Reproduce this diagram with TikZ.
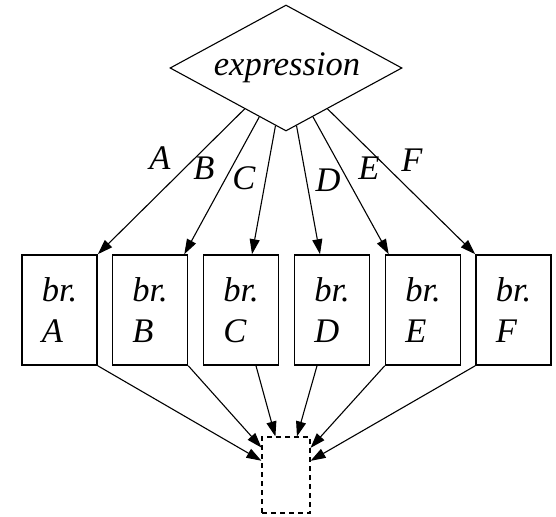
\documentclass[tikz,border=0pt]{standalone}
\usepackage{fontspec}
\setmainfont{Liberation Serif}[ItalicFont={Liberation Serif Italic}]
\usetikzlibrary{shapes.geometric,arrows.meta}
\begin{document}
\begin{tikzpicture}[x=1pt,y=-1pt,
  every node/.style={font=\fontsize{34.5}{41}\selectfont\itshape},
  brbox/.style={draw, line width=1.6pt, minimum width=75pt, minimum height=110pt, inner sep=0pt, align=left},
  edge/.style={line width=1.1pt, -{Triangle[length=15pt,width=10pt]}},
  lab/.style={inner sep=0pt}]
\useasboundingbox (0,0) rectangle (556,516);
\node[diamond, draw, line width=1.1pt, minimum width=232pt, minimum height=126pt, inner sep=0pt] (d) at (286,68) {};
\node[inner sep=0pt] (dt) at (287,68) {expression};
\node[brbox] (a) at (59.5,310) {br.\\A};
\node[brbox] (b) at (150,310) {br.\\B};
\node[brbox] (c) at (241,310) {br.\\C};
\node[brbox] (e1) at (332,310) {br.\\D};
\node[brbox] (e2) at (423,310) {br.\\E};
\node[brbox] (f) at (513.5,310) {br.\\F};
\node[draw, dashed, dash pattern=on 5pt off 4pt, line width=1.1pt, minimum width=48pt, minimum height=76pt, inner sep=0pt] (m) at (286,475) {};
\draw[edge] (d) -- (a.north east);
\draw[edge] (d) -- ([xshift=-4pt]b.north east);
\draw[edge] (d) -- ([xshift=11pt]c.north);
\draw[edge] (d) -- ([xshift=-12pt]e1.north);
\draw[edge] (d) -- ([xshift=4pt]e2.north west);
\draw[edge] (d) -- (f.north west);
\draw[edge] (a.south east) -- (m);
\draw[edge] (b.south east) -- (m);
\draw[edge] ([xshift=15pt]c.south) -- (m);
\draw[edge] ([xshift=-15pt]e1.south) -- (m);
\draw[edge] (e2.south west) -- (m);
\draw[edge] (f.south west) -- (m);
\node[lab] (la) at (160,158) {A};
\node[lab] (lb) at (204,168) {B};
\node[lab] (lc) at (244,178) {C};
\node[lab] (ld) at (328,180) {D};
\node[lab] (le) at (369,168) {E};
\node[lab] (lf) at (412,160) {F};
\end{tikzpicture}
\end{document}
